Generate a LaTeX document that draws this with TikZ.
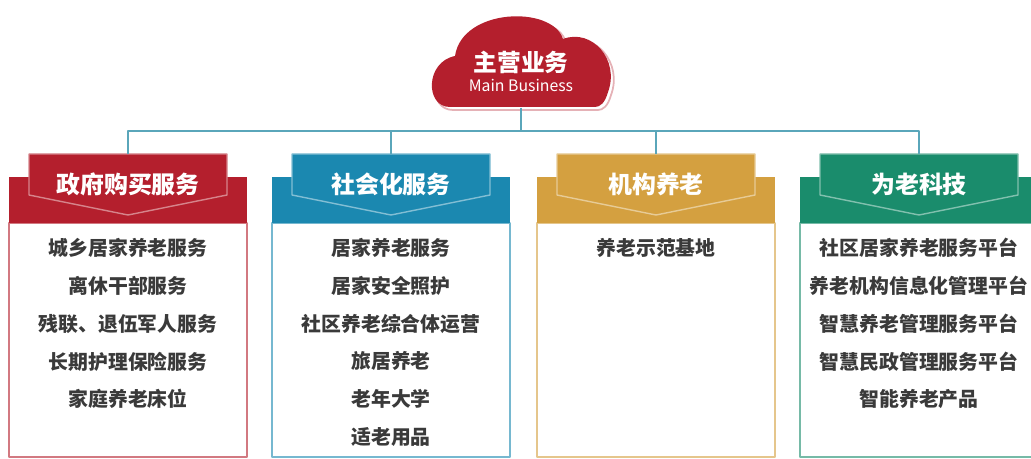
\documentclass[tikz,border=0pt]{standalone}
\usepackage{fontspec}
\setmainfont{Noto Sans CJK SC}
\definecolor{govred}{HTML}{B41F2D}
\definecolor{socblue}{HTML}{1B88B0}
\definecolor{instgold}{HTML}{D4A040}
\definecolor{techgreen}{HTML}{1A8C6C}
\definecolor{linkblue}{HTML}{5AA6BA}
\definecolor{itemgray}{HTML}{3A3A3A}
\tikzset{
  tabtext/.style={text=white, font=\bfseries\fontsize{13.6}{15}\selectfont,
    minimum width=3.96cm, minimum height=1.22cm, inner sep=0pt},
  itemtext/.style={text=itemgray, font=\bfseries\fontsize{11.3}{13}\selectfont, inner sep=1pt},
  link/.style={draw=linkblue, line width=0.9pt},
}
\begin{document}
\begin{tikzpicture}[x=0.02cm,y=-0.02cm,line join=round]
        \useasboundingbox (0,0) rectangle (1031,459);
        % cloud
        \draw[govred!35!white, line width=1pt, shift={(3,3)}] (450,107)
          .. controls (425,107) and (425,62) .. (455,56)
          .. controls (462,8) and (552,5) .. (563,39)
          .. controls (592,28) and (620,60) .. (608,92)
          .. controls (605,103) and (600,107) .. (595,107) -- cycle;
        \fill[govred] (450,107)
          .. controls (425,107) and (425,62) .. (455,56)
          .. controls (462,8) and (552,5) .. (563,39)
          .. controls (592,28) and (620,60) .. (608,92)
          .. controls (605,103) and (600,107) .. (595,107) -- cycle;
        \node[text=white, align=center, minimum height=1.44cm, inner sep=0pt] (main) at (521,71.5)
          {\bfseries\fontsize{13.5}{15}\selectfont 主营业务\\[-1pt]
           \fontsize{9}{11}\selectfont Main Business};
        \coordinate (hub) at (521,131);
        % panels
        \foreach \cx/\col/\nm/\ttl in {128/govred/gov/政府购买服务, 391/socblue/soc/社会化服务,
            656/instgold/inst/机构养老, 919/techgreen/tech/为老科技}{
          \draw[draw=\col!60!white, fill=white, line width=1pt]
            (\cx-119,223) rectangle (\cx+119,457);
          \fill[\col] (\cx-119,177) rectangle (\cx+119,223);
          \draw[fill=\col, draw=white!45!\col, line width=0.8pt]
            (\cx-99,154) -- (\cx+99,154) -- (\cx+99,195)
            -- (\cx,215) -- (\cx-99,195) -- cycle;
          \node[tabtext] (\nm) at (\cx,184.5) {\ttl};
          \draw[link] (hub) -| (\nm.north);
        }
        \draw[link] (main.south) -- (hub);
        % items
        \foreach \t [count=\i from 0] in {城乡居家养老服务, 离休干部服务,
            残联、退伍军人服务, 长期护理保险服务, 家庭养老床位}
          \node[itemtext] (gov-\i) at (128,248+37.8*\i) {\t};
        \foreach \t [count=\i from 0] in {居家养老服务, 居家安全照护,
            社区养老综合体运营, 旅居养老, 老年大学, 适老用品}
          \node[itemtext] (soc-\i) at (391,248+37.8*\i) {\t};
        \node[itemtext] (inst-0) at (656,248) {养老示范基地};
        \foreach \t [count=\i from 0] in {社区居家养老服务平台, 养老机构信息化管理平台,
            智慧养老管理服务平台, 智慧民政管理服务平台, 智能养老产品}
          \node[itemtext] (tech-\i) at (919,248+37.8*\i) {\t};
      \end{tikzpicture}
\end{document}
